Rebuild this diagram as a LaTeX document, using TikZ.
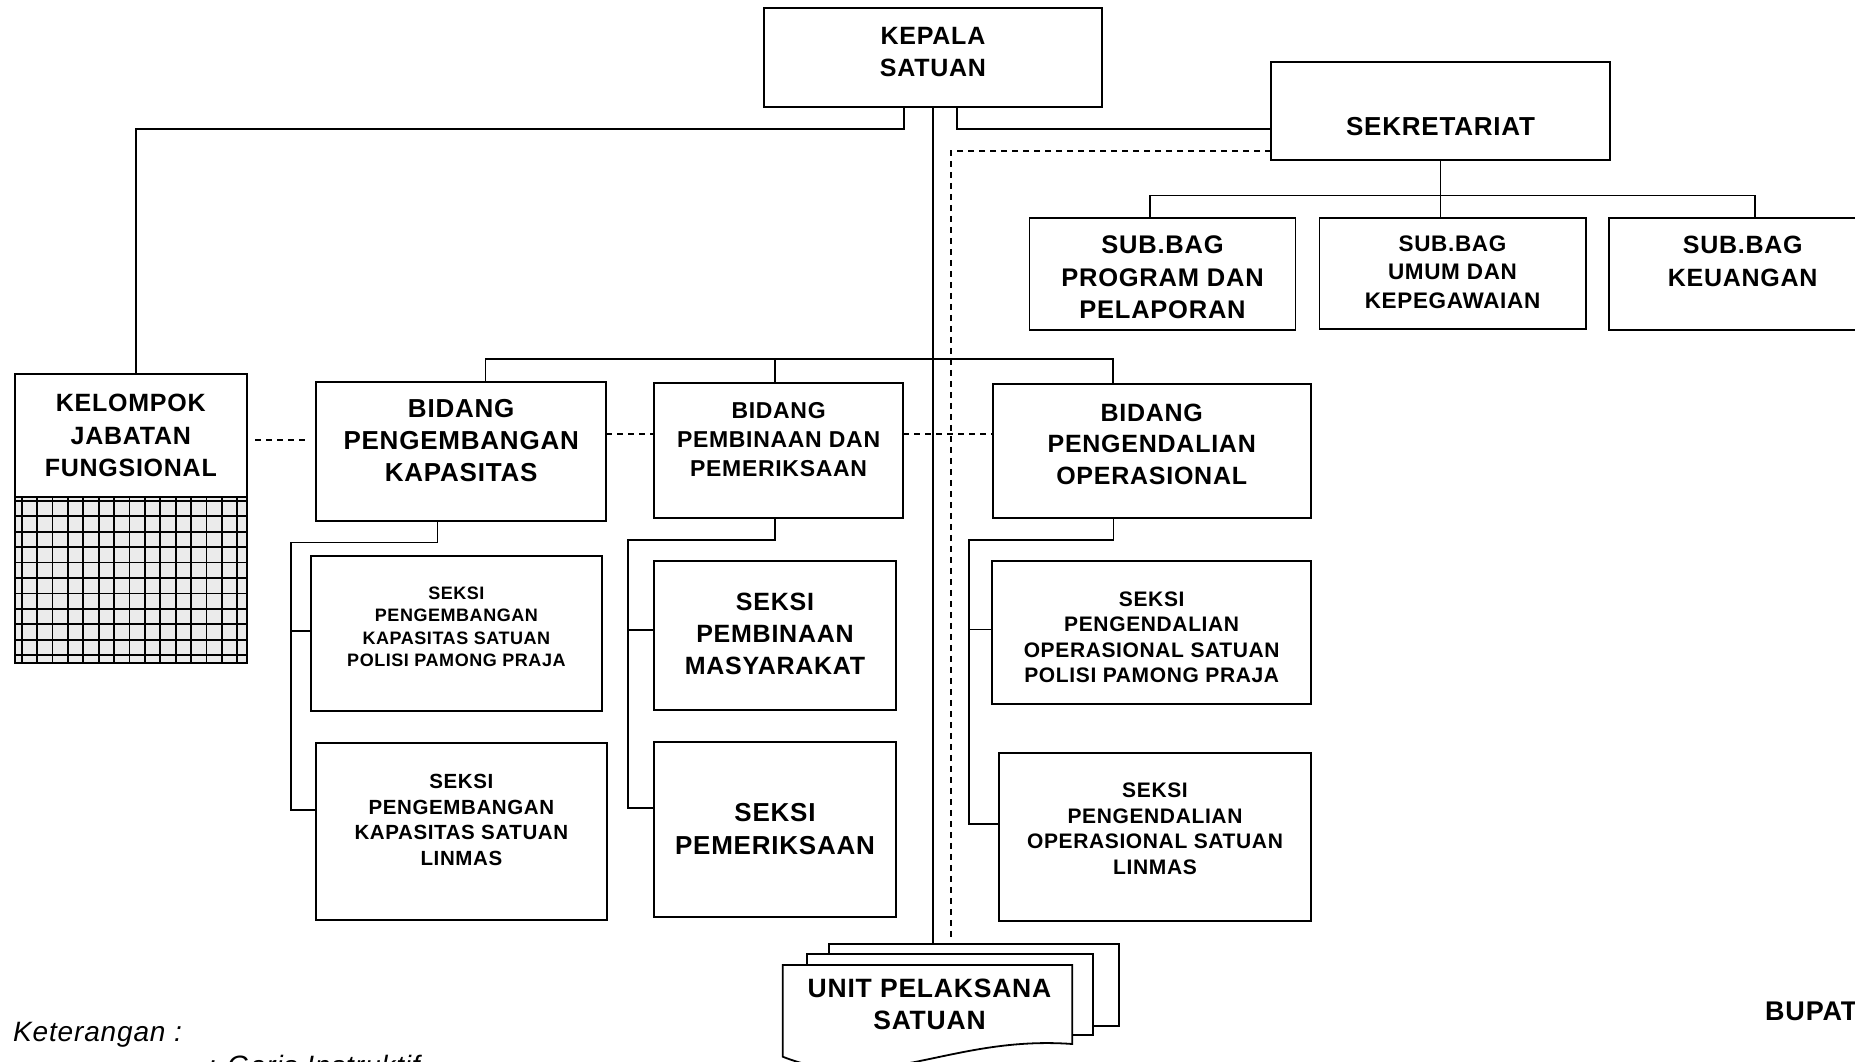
\documentclass[tikz,border=0pt]{standalone}
\usepackage{fontspec}
\setmainfont{Liberation Sans}[LetterSpace=3]
\tikzset{
	box/.style={draw, rectangle, line width=1.8pt, inner sep=0pt, outer sep=0pt},
	page/.style={line width=1.8pt},
	txt/.style 2 args={align=center, inner sep=0pt, font=\fontsize{#1}{#2}\selectfont\bfseries},
	note/.style={anchor=base west, inner sep=0pt, font=\itshape\fontsize{28}{34}\selectfont},
	line/.style={line width=1.4pt},
	dashline/.style={line width=1.3pt, dash pattern=on 6pt off 5pt},
	gridline/.style={line width=1.8pt},
}

\begin{document}
\begin{tikzpicture}[x=1pt, y=-1pt]
	\useasboundingbox (0,0) rectangle (1855,1062);
	\clip (0,0) rectangle (1855,1062);
	
	% pimpinan dan sekretariat
	\node (kepala) [box, minimum width=338, minimum height=98.4] at (933,57.5) {};
	\node (kepala-t) [txt={25}{31.7}] at ([yshift=5.8]kepala.center) {KEPALA\\SATUAN};
	\node (sek) [box, minimum width=339, minimum height=98.3] at (1440.5,110.9) {};
	\node (sek-t) [txt={26}{32}] at ([yshift=-16]sek.center) {SEKRETARIAT};
	
	\node (sbp) [box, minimum width=266, minimum height=111.7] at (1162.5,274.2) {};
	\node (sbp-t) [txt={25.5}{32.3}] at ([yshift=-3.3]sbp.center) {SUB.BAG\\PROGRAM DAN\\PELAPORAN};
	\node (sbu) [box, minimum width=266.2, minimum height=111] at (1452.5,273.8) {};
	\node (sbu-t) [txt={22.5}{28.5}] at ([yshift=1.6]sbu.center) {SUB.BAG\\UMUM DAN\\KEPEGAWAIAN};
	\node (sbk) [box, minimum width=266.7, minimum height=111.7] at (1742.7,274.2) {};
	\node (sbk-t) [txt={25}{33}] at ([yshift=12.5]sbk.center) {SUB.BAG\\KEUANGAN};
	
	% kelompok jabatan fungsional
	\node (kjf) [box, minimum width=232.4, minimum height=123] at (130.8,435.5) {};
	\node (kjf-t) [txt={25}{32.5}] at (kjf.center) {KELOMPOK\\JABATAN\\FUNGSIONAL};
	\fill[black!8] (kjf.south west) rectangle ++(232.4,166);
	\foreach \i in {0,...,14}
		\draw[gridline] (21.7+15.4*\i,497) -- ++(0,166);
	\foreach \j in {0,...,10}
		\draw[gridline] (14.6,500.7+15.46*\j) -- ++(232.4,0);
	\draw[page] (kjf.south west) rectangle ++(232.4,166);
	
	% bidang
	\node (bpk) [box, minimum width=289.7, minimum height=139] at (461.2,451.2) {};
	\node (bpk-t) [txt={26}{31.7}] at ([yshift=10.5]bpk.center) {BIDANG\\PENGEMBANGAN\\KAPASITAS};
	\node (bpp) [box, minimum width=248.8, minimum height=134.4] at (778.6,450.5) {};
	\node (bpp-t) [txt={23}{28.8}] at ([yshift=11.2]bpp.center) {BIDANG\\PEMBINAAN DAN\\PEMERIKSAAN};
	\node (bpo) [box, minimum width=318, minimum height=133.7] at (1151.7,450.9) {};
	\node (bpo-t) [txt={25}{31.5}] at ([yshift=6.9]bpo.center) {BIDANG\\PENGENDALIAN\\OPERASIONAL};
	
	% seksi
	\node (spk1) [box, minimum width=290.7, minimum height=155.3] at (456.4,633.4) {};
	\node (spk1-t) [txt={18}{22.2}] at ([yshift=6.7]spk1.center) {SEKSI\\PENGEMBANGAN\\KAPASITAS SATUAN\\POLISI PAMONG PRAJA};
	\node (spk2) [box, minimum width=290.7, minimum height=176.7] at (461.4,831.7) {};
	\node (spk2-t) [txt={20.5}{25.5}] at ([yshift=11.7]spk2.center) {SEKSI\\PENGEMBANGAN\\KAPASITAS SATUAN\\LINMAS};
	\node (spm) [box, minimum width=242, minimum height=149.3] at (775,635.4) {};
	\node (spm-t) [txt={25}{31.8}] at ([yshift=1.6]spm.center) {SEKSI\\PEMBINAAN\\MASYARAKAT};
	\node (spr) [box, minimum width=242, minimum height=175] at (775,829.5) {};
	\node (spr-t) [txt={26}{33}] at (spr.center) {SEKSI\\PEMERIKSAAN};
	\node (spo1) [box, minimum width=318.7, minimum height=143.3] at (1151.7,632.7) {};
	\node (spo1-t) [txt={21}{25.6}] at ([yshift=-4.5]spo1.center) {SEKSI\\PENGENDALIAN\\OPERASIONAL SATUAN\\POLISI PAMONG PRAJA};
	\node (spo2) [box, minimum width=312, minimum height=168] at (1155,836.7) {};
	\node (spo2-t) [txt={21}{25.4}] at ([yshift=7.9]spo2.center) {SEKSI\\PENGENDALIAN\\OPERASIONAL SATUAN\\LINMAS};
	
	% unit pelaksana satuan
	\draw[page] (829,954.3) |- (1119,944.3) |- (1093.3,1026);
	\draw[page] (806.7,965) |- (1093.3,954.3) |- (1072.3,1035);
	\draw[page] (782.7,1056.7) |- (1072.3,965) -- (1072.3,1044) .. controls (950,1035) and (880,1095) .. (782.7,1056.7) -- cycle;
	\node (ups) [txt={26.5}{31.7}] at (929.5,1004.7) {UNIT PELAKSANA\\SATUAN};
	\coordinate (ups-top) at (933.3,944.3);
	\coordinate (dl-end) at (951,941);
	
	\coordinate (v1) at (291,0);
	\coordinate (v2) at (628,0);
	\coordinate (v3) at (969,0);
	
	\begin{scope}[line]
		\draw ([xshift=-29]kepala.south) -- ++(0,22.3) -| ([xshift=5.2]kjf.north);
		\draw ([xshift=24]kepala.south) |- ([yshift=-18]sek.west);
		\draw (kepala.south) -- (kepala.south |- ups-top);
		\draw (sek.south) -- (sek.south |- sbu.north);
		\draw ([xshift=-12.5]sbp.north) -- ++(0,-22.6) -| ([xshift=12.3]sbk.north);
		\draw ([xshift=24.4]bpk.north) -- ++(0,-22.7) -| ([xshift=-38.7]bpo.north);
		\draw ([xshift=-3.6]bpp.north) -- ++(0,-24.3);
		\draw ([xshift=-23.9]bpk.south) -- ++(0,21.6) -| ([yshift=21.7]spk2.west -| v1) -- ([yshift=21.7]spk2.west);
		\draw ([yshift=2.4]spk1.west -| v1) -- ([yshift=2.4]spk1.west);
		\draw ([xshift=-3.6]bpp.south) -- ++(0,22.3) -| ([yshift=21.5]spr.west -| v2) -- ([yshift=21.5]spr.west);
		\draw ([yshift=5.4]spm.west -| v2) -- ([yshift=5.4]spm.west);
		\draw ([xshift=-38]bpo.south) -- ++(0,22.3) -| ([yshift=12.7]spo2.west -| v3) -- ([yshift=12.7]spo2.west);
		\draw ([yshift=3.4]spo1.west -| v3) -- ([yshift=3.4]spo1.west);
	\end{scope}
	
	\begin{scope}[dashline]
		\draw[shorten <=8pt, shorten >=11pt] ([yshift=-4.5]kjf.east) -- ([yshift=-4.5]kjf.east -| bpk.west);
		\draw ([yshift=17.2]bpk.east) -- ([yshift=17.2]bpk.east -| bpp.west);
		\draw ([yshift=16.5]bpp.east) -- ([yshift=16.5]bpp.east -| bpo.west);
		\draw ([yshift=-40]sek.west) -| (dl-end);
	\end{scope}
	
	% keterangan
	\node (ket) [note] at (13,1041.7) {Keterangan :};
	\node (garis) [note] at (208,1075) {: Garis Instruktif};
	\node (bupati) [anchor=base west, inner sep=0pt, font=\bfseries\fontsize{27}{32}\selectfont] at (1765,1020) {BUPATI};
\end{tikzpicture}
\end{document}
